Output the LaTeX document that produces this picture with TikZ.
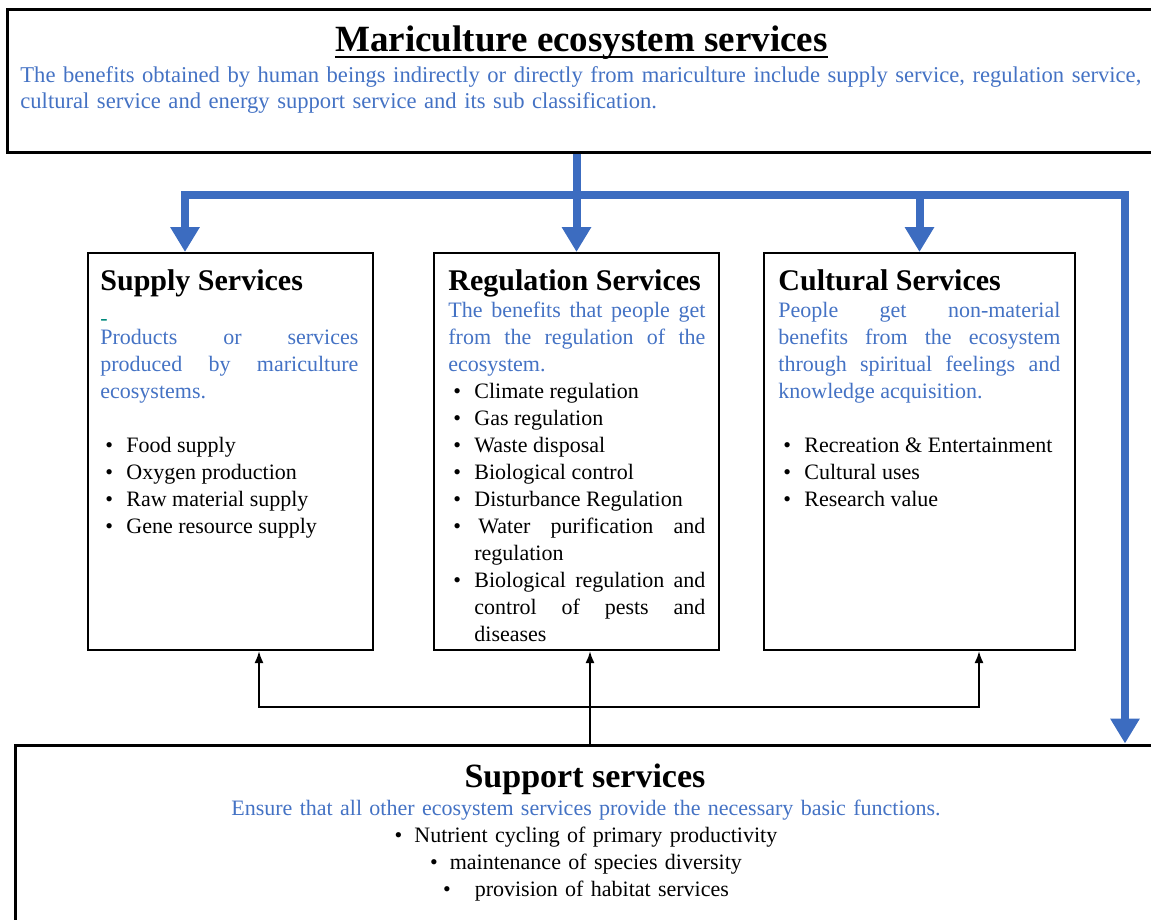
\documentclass[tikz,border=0pt]{standalone}
\usepackage{fontspec}
\setmainfont{Liberation Serif}
\usetikzlibrary{arrows.meta,positioning,calc}

\definecolor{descblue}{HTML}{4472C4}
\definecolor{flowblue}{HTML}{3C6CC0}
\definecolor{dashteal}{HTML}{00897B}

\newcommand{\svchead}{\fontsize{15}{13.5}\selectfont\bfseries}
\newcommand{\bitem}[1]{\par\hangindent=13pt\hangafter=1\noindent
  \hspace*{2.5pt}\makebox[10.5pt][l]{\textbullet}#1}

\begin{document}
\begin{tikzpicture}[
  x=0.5pt, y=-0.5pt,
  every node/.style={font=\rmfamily\fontsize{11}{13.5}\selectfont},
  frame/.style={draw, line width=1.5pt, inner sep=0pt},
  svcbox/.style={draw, line width=1pt, inner sep=0pt,
                 minimum height=198.5pt},
  svctext/.style={anchor=base west, inner sep=0pt, text width=#1,
                  align=justify},
  flowarrow/.style={line width=4pt, draw=flowblue,
                    -{Triangle[width=14pt,length=12.5pt]}},
  linkarrow/.style={line width=1pt, -{Latex[width=4.5pt,length=6pt]}},
]
  \useasboundingbox (0,0) rectangle (1151,920);

  % Top and bottom frames
  \node[frame, minimum width=576.5pt, minimum height=71.5pt]
    (top) at (583.5,81.5) {};
  \node[frame, minimum width=575pt, minimum height=95pt]
    (support) at (590,840) {};

  \node[anchor=base, inner sep=0pt,
        font=\rmfamily\fontsize{18.5}{22}\selectfont\bfseries]
    (title) at (581.5,52) {Mariculture ecosystem services};
  \draw[line width=1pt] ([yshift=-2.5pt]title.base west)
    -- ([yshift=-2.5pt]title.base east);
  \node[anchor=base west, inner sep=0pt, text width=570pt, align=left,
        text=descblue, font=\rmfamily\fontsize{11.3}{13}\selectfont]
    (topdesc) at (20,83)
    {The benefits obtained by human beings indirectly or directly from mariculture include supply service, regulation service,\\
     cultural service and energy support service and its sub classification.};

  % Three service boxes
  \node[svcbox, minimum width=142.5pt] (supply) at (230.5,451.5) {};
  \node[svcbox, minimum width=142.5pt] (regul) at (576.5,451.5) {};
  \node[svcbox, minimum width=155.5pt] (cultural) at (919.5,451.5) {};

  \node[svctext=129pt] (supplytext) at (100,290) {%
    {\svchead Supply Services}\par
    {\color{dashteal}\raisebox{-4pt}{-}}\par
    {\color{descblue}Products or services\linebreak
     produced by mariculture\linebreak ecosystems.\par}
    \mbox{}\par
    \bitem{Food supply}\bitem{Oxygen production}%
    \bitem{Raw material supply}\bitem{Gene resource supply}\par};

  \node[svctext=128.5pt] (regultext) at (448,290) {%
    {\svchead Regulation Services}\par
    {\color{descblue}The benefits that people get\linebreak
     from the regulation of the\linebreak ecosystem.\par}
    \bitem{Climate regulation}\bitem{Gas regulation}%
    \bitem{Waste disposal}\bitem{Biological control}%
    \bitem{Disturbance Regulation}%
    \bitem{\hspace{2pt}Water purification and\linebreak regulation}%
    \bitem{Biological regulation and\linebreak control of pests and\linebreak diseases}\par};

  \node[svctext=141pt] (culturaltext) at (778,290) {%
    {\svchead Cultural Services}\par
    {\color{descblue}People get non-material\linebreak
     benefits from the ecosystem\linebreak
     through spiritual feelings and\linebreak knowledge acquisition.\par}
    \mbox{}\par
    \bitem{Recreation \& Entertainment}\bitem{Cultural uses}%
    \bitem{Research value}\par};

  % Support services text
  \node[anchor=base, font=\rmfamily\fontsize{17}{20}\selectfont\bfseries]
    (supporttitle) at (585,787) {Support services};
  \node[anchor=base, inner sep=0pt, text width=560pt, align=center]
    (supportlist) at (586,815)
    {\textcolor{descblue}{Ensure that all other ecosystem services provide the necessary basic functions.}\\
     \textbullet\hspace{6pt}Nutrient cycling of primary productivity\\
     \textbullet\hspace{6pt}maintenance of species diversity\\
     \textbullet\hspace{12pt}provision of habitat services};

  % Blue distribution arrows
  \coordinate (lsplit) at (185,195);
  \coordinate (rsplit) at (1125,195);
  \draw[flowarrow] (regul.north |- top.south) -- (regul.north);
  \draw[flowarrow, {Triangle[width=14pt,length=12.5pt]}-{Triangle[width=14pt,length=12.5pt]}]
    (lsplit |- supply.north) -- (lsplit) -- (rsplit) -- (rsplit |- support.north);
  \draw[flowarrow] (cultural.north |- lsplit) -- (cultural.north);

  % Black support arrows
  \coordinate (lfeed) at (259,707);
  \coordinate (mfeed) at (590,707);
  \coordinate (rfeed) at (979,707);
  \draw[linkarrow] (mfeed |- support.north) -- (mfeed |- regul.south);
  \draw[linkarrow, {Latex[width=4.5pt,length=6pt]}-{Latex[width=4.5pt,length=6pt]}]
    (lfeed |- supply.south) -- (lfeed) -- (rfeed) -- (rfeed |- cultural.south);
\end{tikzpicture}
\end{document}
